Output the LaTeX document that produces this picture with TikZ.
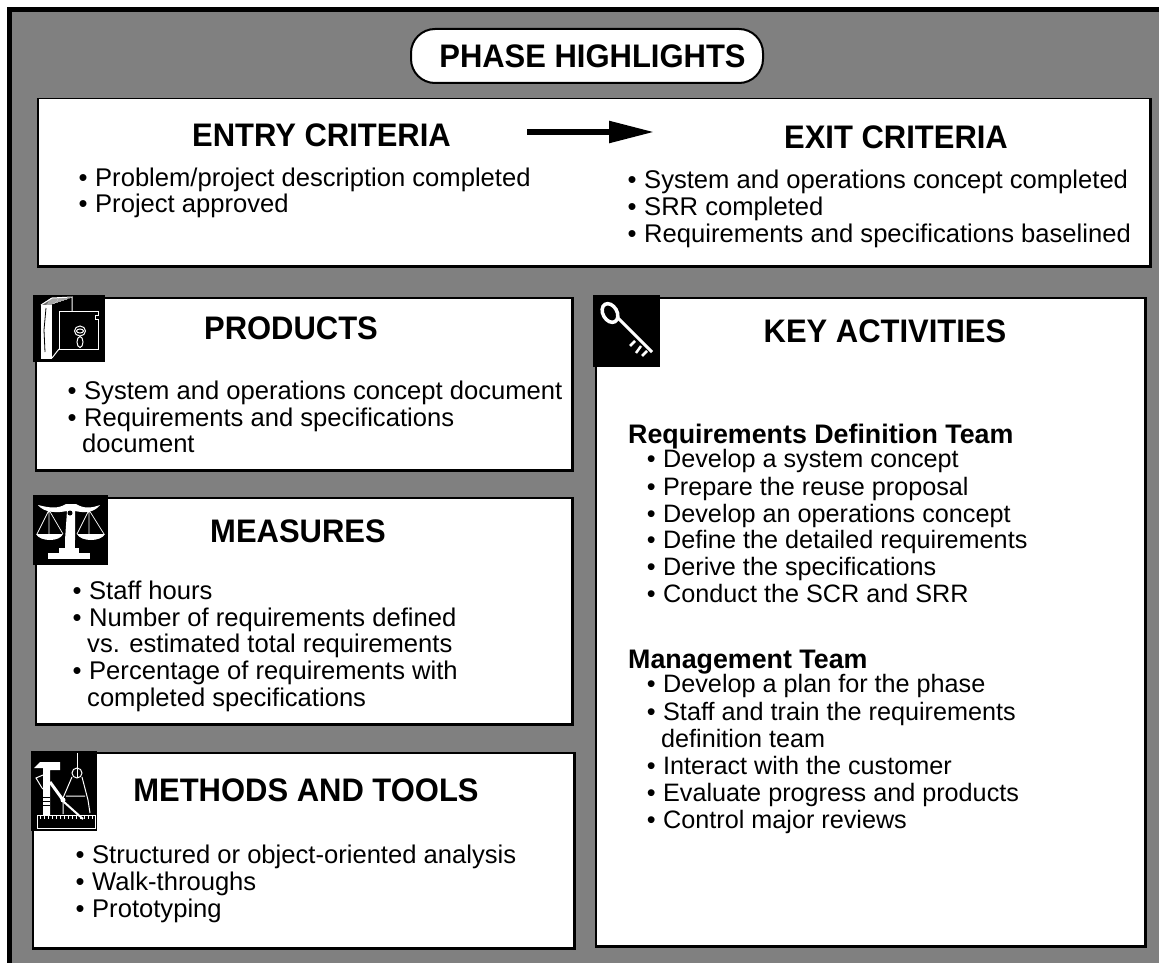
\documentclass[tikz,border=0pt]{standalone}
\usepackage{fontspec}
\setmainfont{Liberation Sans}
\newfontfamily\titlefont[FakeStretch=0.95]{Liberation Sans}
\usetikzlibrary{arrows.meta,calc}
\definecolor{bg}{gray}{0.5}
\tikzset{
 x=1pt,y=-1pt,
 card/.style={draw=black,fill=white,line width=1.5pt,anchor=north west,inner sep=0},
 heavy/.style={draw=black,line width=3.5pt},
 title/.style={font=\titlefont\fontsize{32.6}{33}\selectfont\bfseries,anchor=center,inner sep=0},
 team/.style={font=\fontsize{26.8}{27}\selectfont\bfseries,anchor=base west,inner sep=0},
 item/.style={font=\fontsize{25.6}{26}\selectfont,anchor=base west,inner sep=0},
 keyitem/.style={font=\fontsize{25.2}{26}\selectfont,anchor=base west,inner sep=0},
 wl/.style={draw=white,line width=1pt},
}
\newcommand{\itm}[3]{\node[item] at (#1,#2) {\llap{•\hspace{7.5pt}}#3};}
\newcommand{\cnt}[3]{\node[item] at (#1,#2) {#3};}
\newcommand{\kitm}[3]{\node[keyitem] at (#1,#2) {\llap{•\hspace{7.5pt}}#3};}
\newcommand{\kcnt}[3]{\node[keyitem] at (#1,#2) {#3};}
\newcommand{\cardbox}[5]{%
 \path let \p1=(#2,#3), \p2=(#4,#5) in node[card,minimum width=\x2-\x1,minimum height=\y1-\y2] (#1) at (\p1) {};
 \draw[heavy] (#1.north east) -- (#1.south east) -- (#1.south west);}
\begin{document}
\begin{tikzpicture}
\useasboundingbox (0,0) rectangle (1159,963);
\fill[white] (0,0) rectangle (1159,963);
\fill[bg] (7,7) rectangle (1159,963);
\draw[black,line width=5pt] (9.5,963) -- (9.5,9.5) -- (1159,9.5);
% title
\node[draw=black,fill=white,line width=2pt,rounded corners=24pt,minimum width=352pt,minimum height=54pt,inner sep=0] (ph) at (587,56) {};
\node[title] at (592.5,56) {PHASE HIGHLIGHTS};
% criteria
\cardbox{crit}{37}{98}{1149}{265}
\node[title] (en) at (321.5,135.5) {ENTRY CRITERIA};
\node[title] (ex) at (896,137.5) {EXIT CRITERIA};
\coordinate (a0) at (527,132); \coordinate (a1) at (654,132);
\draw[line width=5.5pt,-{Triangle[length=45pt,width=21pt]}] (a0) -- (a1);
\itm{95}{186}{Problem/project description completed}
\itm{95}{212}{Project approved}
\itm{644}{188}{System and operations concept completed}
\itm{644}{215}{SRR completed}
\itm{644}{242}{Requirements and specifications baselined}
% products
\cardbox{prod}{35}{297}{571}{469}
\node[title] at (291,328) {PRODUCTS};
\itm{84}{399}{System and operations concept document}
\itm{84}{426.5}{Requirements and specifications}
\cnt{82}{452}{document}
% measures
\cardbox{meas}{35}{497}{571}{723}
\node[title] at (298,531.5) {MEASURES};
\itm{89}{599}{Staff hours}
\itm{89}{626.5}{Number of requirements defined}
\cnt{87}{652}{vs. estimated total requirements}
\itm{89}{679.5}{Percentage of requirements with}
\cnt{87}{706}{completed specifications}
% methods
\cardbox{meth}{32}{752}{573}{947}
\node[title] at (306,790) {METHODS AND TOOLS};
\itm{92}{863}{Structured or object-oriented analysis}
\itm{92}{890}{Walk-throughs}
\itm{92}{917}{Prototyping}
% key
\cardbox{key}{595}{297}{1144}{945}
\node[title] at (885,331) {KEY ACTIVITIES};
\node[team] at (628,443) {Requirements Definition Team};
\kitm{663}{467}{Develop a system concept}
\kitm{663}{495}{Prepare the reuse proposal}
\kitm{663}{522}{Develop an operations concept}
\kitm{663}{548}{Define the detailed requirements}
\kitm{663}{575}{Derive the specifications}
\kitm{663}{602}{Conduct the SCR and SRR}
\node[team] at (628,668) {Management Team};
\kitm{663}{692}{Develop a plan for the phase}
\kitm{663}{720}{Staff and train the requirements}
\kcnt{661}{747}{definition team}
\kitm{663}{774}{Interact with the customer}
\kitm{663}{801}{Evaluate progress and products}
\kitm{663}{828}{Control major reviews}
% icon: book and safe
\fill[black] (33,295) rectangle (105,362);
\fill[white] (41,305) rectangle (52,359);
\foreach \d in {0,1.5,...,9} \draw[white,line width=.5pt] (41+\d,305-\d*.7) -- (52+\d*2,305-\d*.7-.5);
\draw[wl] (41,305) -- (52,298) -- (72,297) -- (72,311);
\draw[wl] (59,311) -- (98,311) -- (98,315) -- (95,315) -- (95,319) -- (98,319) -- (98,349) -- (59,349) -- cycle;
\draw[wl] (52,358) -- (59,349);
\draw[wl] (80,331) ellipse (5.5pt and 5pt);
\draw[wl] (80,331) ellipse (3.5pt and 2pt);
\draw[wl] (80,342) ellipse (3pt and 5.5pt);
\draw[black,line width=.8pt] (46,308) -- (44,330) -- (45,352);
% icon: scales
\fill[black] (33,495) rectangle (108,564.5);
\fill[white] (38,505) .. controls (50,508) and (58,509) .. (66,504) -- (76,504) .. controls (84,509) and (92,508) .. (100,505) .. controls (94,513) and (84,513) .. (75,511) -- (75,540) -- (65,540) -- (67,511) .. controls (58,513) and (44,513) .. (38,505) -- cycle;
\fill[white] (65,540) rectangle (75,548);
\fill[white] (59,548) rectangle (79,553);
\fill[white] (48,553) rectangle (90,559);
\fill[black] (70,513) circle (2.5pt);
\draw[white,line width=.7pt] (49,510) -- (37,534) (49,510) -- (49,534) (49,510) -- (63,534);
\draw[white,line width=.7pt] (89,510) -- (77,534) (89,510) -- (89,534) (89,510) -- (104,534);
\fill[white] (36,534) -- (63,534) .. controls (60,542) and (40,542) .. (36,534) -- cycle;
\fill[white] (77,534) -- (105,534) .. controls (101,542) and (81,542) .. (77,534) -- cycle;
% icon: tools
\fill[black] (31,751) rectangle (97,831);
\fill[white] (34,768) -- (40,762) -- (60,762) -- (60,770) -- (50,770) -- (50,815) -- (43,815) -- (43,768) -- cycle;
\draw[wl] (43,775) -- (36,778) -- (42,788) -- (44,790);
\draw[black,line width=1pt] (43,797) -- (50,797) (43,801) -- (50,801) (43,805) -- (50,805);
\draw[white,line width=3pt] (50,782) -- (63,800);
\draw[wl] (37,815) rectangle (95,828);
\foreach \t in {40,44,...,92} \draw[white,line width=.5pt] (\t,815) -- (\t,819);
\draw[wl] (77,753) -- (77,778);
\draw[wl] (77,773) circle (5pt);
\draw[wl] (72,777) -- (63,798) -- (63,814) (82,777) -- (88,800) -- (90,813) (66,796) -- (85,796);
\draw[white,line width=2pt] (64,802) -- (83,819);
\fill[white] (63,800) circle (2.5pt);
% icon: key
\fill[black] (593,295) rectangle (660,367);
\draw[white,line width=3.5pt,rotate around={30:(610,313)}] (610,313) ellipse (7pt and 10pt);
\draw[white,line width=3pt] (617,317) -- (652,352);
\draw[white,line width=2.5pt] (635,341) -- (630,346) (641,346) -- (636,353) (647,351) -- (642,356);
\end{tikzpicture}
\end{document}
